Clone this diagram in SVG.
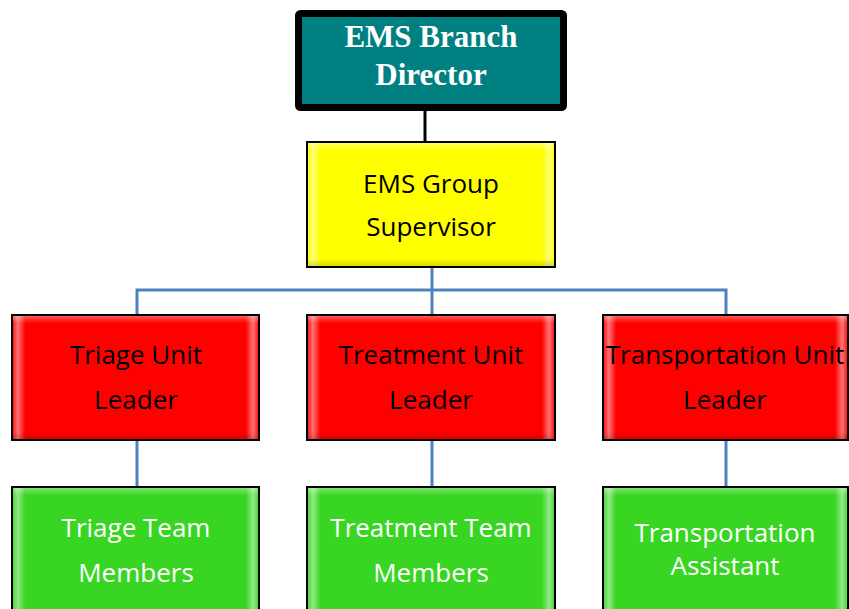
<svg xmlns="http://www.w3.org/2000/svg" width="849" height="609" viewBox="0 0 849 609">
<style>
.box{stroke:#000;stroke-width:2}
.red{fill:#ff0000}
.yel{fill:#ffff00}
.grn{fill:#38d623}
.lbl{font-family:"Open Sans","Liberation Sans",sans-serif;font-size:26px;text-anchor:middle}
.blk{fill:#000}
.wht{fill:#fff}
.top{font-family:"Liberation Serif","Times New Roman",serif;font-size:31px;font-weight:bold;fill:#fff;text-anchor:middle}
.conn{fill:none;stroke:#4f81bd;stroke-width:3}
</style>
<defs>
<linearGradient id="bh" x1="0" y1="0" x2="1" y2="0">
<stop offset="0" stop-color="#fff" stop-opacity="0.1"/>
<stop offset="0.02" stop-color="#fff" stop-opacity="0.45"/>
<stop offset="0.05" stop-color="#fff" stop-opacity="0"/>
<stop offset="0.95" stop-color="#fff" stop-opacity="0"/>
<stop offset="0.98" stop-color="#fff" stop-opacity="0.45"/>
<stop offset="1" stop-color="#fff" stop-opacity="0.1"/>
</linearGradient>
<linearGradient id="bv" x1="0" y1="0" x2="0" y2="1">
<stop offset="0" stop-color="#fff" stop-opacity="0.35"/>
<stop offset="0.06" stop-color="#fff" stop-opacity="0"/>
<stop offset="0.94" stop-color="#000" stop-opacity="0"/>
<stop offset="1" stop-color="#000" stop-opacity="0.15"/>
</linearGradient>
</defs>
<g id="connectors">
<line x1="425" y1="110" x2="425" y2="142" stroke="#000" stroke-width="3"/>
<line class="conn" x1="432" y1="267" x2="432" y2="316"/>
<polyline class="conn" points="137,316 137,290 726,290 726,316"/>
<line class="conn" x1="137" y1="440" x2="137" y2="487"/>
<line class="conn" x1="432" y1="440" x2="432" y2="487"/>
<line class="conn" x1="726" y1="440" x2="726" y2="487"/>
</g>
<g id="director">
<rect x="298.5" y="13.5" width="265" height="94" rx="2" fill="#008080" stroke="#000" stroke-width="7"/>
<text class="top" x="431" y="47">EMS Branch</text>
<text class="top" x="431" y="85">Director</text>
</g>
<g id="supervisor">
<rect class="box yel" x="307" y="142" width="248" height="125"/>
<rect x="308" y="143" width="246" height="123" fill="url(#bh)"/>
<rect x="308" y="143" width="246" height="123" fill="url(#bv)"/>
<text class="lbl blk" x="431" y="193">EMS Group</text>
<text class="lbl blk" x="431" y="236">Supervisor</text>
</g>
<g id="triage-leader">
<rect class="box red" x="12" y="315" width="247" height="125"/>
<rect x="13" y="316" width="245" height="123" fill="url(#bh)"/>
<rect x="13" y="316" width="245" height="123" fill="url(#bv)"/>
<text class="lbl blk" x="136" y="364">Triage Unit</text>
<text class="lbl blk" x="136" y="409">Leader</text>
</g>
<g id="treatment-leader">
<rect class="box red" x="307" y="315" width="248" height="125"/>
<rect x="308" y="316" width="246" height="123" fill="url(#bh)"/>
<rect x="308" y="316" width="246" height="123" fill="url(#bv)"/>
<text class="lbl blk" x="431" y="364">Treatment Unit</text>
<text class="lbl blk" x="431" y="409">Leader</text>
</g>
<g id="transportation-leader">
<rect class="box red" x="603" y="315" width="245" height="125"/>
<rect x="604" y="316" width="243" height="123" fill="url(#bh)"/>
<rect x="604" y="316" width="243" height="123" fill="url(#bv)"/>
<text class="lbl blk" x="725" y="364">Transportation Unit</text>
<text class="lbl blk" x="725" y="409">Leader</text>
</g>
<g id="triage-team">
<rect class="box grn" x="12" y="487" width="247" height="130"/>
<rect x="13" y="488" width="245" height="128" fill="url(#bh)"/>
<rect x="13" y="488" width="245" height="128" fill="url(#bv)"/>
<text class="lbl wht" x="136" y="537">Triage Team</text>
<text class="lbl wht" x="136" y="582">Members</text>
</g>
<g id="treatment-team">
<rect class="box grn" x="307" y="487" width="248" height="130"/>
<rect x="308" y="488" width="246" height="128" fill="url(#bh)"/>
<rect x="308" y="488" width="246" height="128" fill="url(#bv)"/>
<text class="lbl wht" x="431" y="537">Treatment Team</text>
<text class="lbl wht" x="431" y="582">Members</text>
</g>
<g id="transportation-assistant">
<rect class="box grn" x="603" y="487" width="245" height="130"/>
<rect x="604" y="488" width="243" height="128" fill="url(#bh)"/>
<rect x="604" y="488" width="243" height="128" fill="url(#bv)"/>
<text class="lbl wht" x="725" y="542">Transportation</text>
<text class="lbl wht" x="725" y="575">Assistant</text>
</g>
</svg>
